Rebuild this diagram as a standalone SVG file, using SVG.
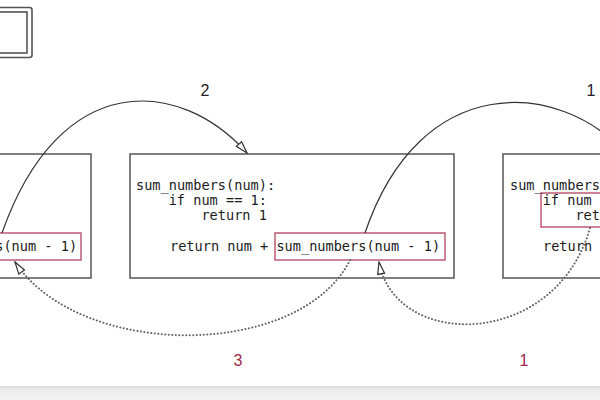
<svg xmlns="http://www.w3.org/2000/svg" width="600" height="400" viewBox="0 0 600 400">
<style>
.box{fill:#fff;stroke:#555;stroke-width:1.5}
.hl{fill:none;stroke:#b8506a;stroke-width:1.4}
.code{font-family:"DejaVu Sans Mono","Liberation Mono",monospace;font-size:13.6px;fill:#1a1a1a}
.solid{fill:none;stroke:#333;stroke-width:1.2}
.dot{fill:none;stroke:#666;stroke-width:2;stroke-dasharray:0.1 3.4;stroke-linecap:round}
.lbl{font-family:"Liberation Sans",Arial,sans-serif;font-size:16px;text-anchor:middle}
.top{fill:#222}
.bot{fill:#a0284f}
</style>
<defs>
<marker id="open" viewBox="0 0 14 10" refX="13" refY="5" markerWidth="14" markerHeight="10" orient="auto" markerUnits="userSpaceOnUse">
<path d="M1,1.5 L13,5 L1,8.5 z" fill="#fff" stroke="#333" stroke-width="1.2" stroke-dasharray="none"/>
</marker>
<linearGradient id="sh" x1="0" y1="0" x2="0" y2="1">
<stop offset="0" stop-color="#dcdcdc"/>
<stop offset="0.4" stop-color="#efefef"/>
<stop offset="1" stop-color="#f2f2f2"/>
</linearGradient>
</defs>
<rect width="600" height="400" fill="#fff"/>
<rect x="0" y="386" width="600" height="14" fill="url(#sh)"/>

<g id="window-icon">
<rect x="-12" y="7.5" width="44" height="50" rx="2.5" fill="none" stroke="#555" stroke-width="1.6"/>
<rect x="-12" y="12" width="39" height="41" fill="none" stroke="#555" stroke-width="1.6"/>
</g>

<g id="frame-left">
<rect class="box" x="-240" y="154" width="331" height="124"/>
<rect class="hl" x="-88" y="233" width="169" height="27"/>
<text class="code" x="-193" y="251">return num + sum_numbers(num - 1)</text>
</g>

<g id="frame-middle">
<rect class="box" x="130" y="154" width="324" height="124"/>
<rect class="hl" x="275" y="233" width="170" height="27"/>
<text class="code" x="136" y="190">sum_numbers(num):</text>
<text class="code" x="168.7" y="205">if num == 1:</text>
<text class="code" x="201.4" y="220">return 1</text>
<text class="code" x="170" y="251">return num + sum_numbers(num - 1)</text>
</g>

<g id="frame-right">
<rect class="box" x="503" y="154" width="324" height="124"/>
<rect class="hl" x="541" y="193" width="120" height="34"/>
<text class="code" x="510" y="190">sum_numbers(num):</text>
<text class="code" x="542.7" y="205">if num == 1:</text>
<text class="code" x="575.4" y="220">return 1</text>
<text class="code" x="543" y="251">return num + sum_numbers(num - 1)</text>
</g>

<g id="connectors">
<path class="solid" d="M2,233 C60,68 180,78 247,153" marker-end="url(#open)"/>
<path class="solid" d="M365,233 C420,70 560,80 625,153" marker-end="url(#open)"/>
<path class="dot" d="M350,260 C300,360 80,360 15,262" marker-end="url(#open)"/>
<path class="dot" d="M590,228 C555,350 395,350 379,262" marker-end="url(#open)"/>
</g>

<g id="labels">
<text class="lbl top" x="205" y="96">2</text>
<text class="lbl top" x="591" y="96">1</text>
<text class="lbl bot" x="238" y="366">3</text>
<text class="lbl bot" x="524" y="366">1</text>
</g>
</svg>
